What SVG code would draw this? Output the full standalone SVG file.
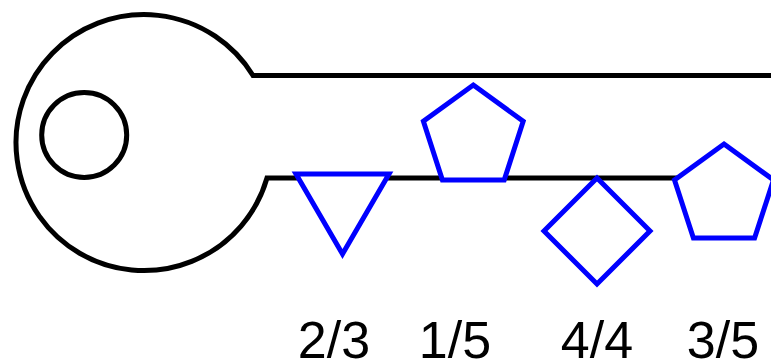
<svg xmlns="http://www.w3.org/2000/svg" width="771" height="363" viewBox="0 0 771 363">
  <style>
    .key { fill: none; stroke: #000; stroke-width: 5; stroke-linejoin: miter; }
    .pin { fill: #fff; stroke: #0000ff; stroke-width: 5; stroke-linejoin: miter; }
    .lbl { font-family: "Liberation Sans", Arial, sans-serif; font-size: 52px; fill: #000; text-anchor: middle; }
  </style>
  <rect width="771" height="363" fill="#fff"/>

  <!-- key outline: bow and blade -->
  <g id="key">
    <path class="key" d="M 775 75.5 H 253 A 128 128 0 1 0 267 178 H 775"/>
    <circle class="key" cx="84.2" cy="135" r="42.5"/>
  </g>

  <!-- pins along the blade -->
  <g id="pin-triangle">
    <polygon class="pin" points="296,174 389,174 342.5,254"/>
  </g>
  <g id="pin-pentagon-1">
    <polygon class="pin" points="473.3,85 523.2,121.3 504.2,180 442.4,180 423.4,121.3"/>
  </g>
  <g id="pin-diamond">
    <polygon class="pin" points="597,178 650,231 597,284 544,231"/>
  </g>
  <g id="pin-pentagon-2">
    <polygon class="pin" points="724,144 773.5,180 754.6,238 693.4,238 674.5,180"/>
  </g>

  <!-- labels -->
  <g id="labels">
    <text class="lbl" x="334" y="358">2/3</text>
    <text class="lbl" x="455" y="358">1/5</text>
    <text class="lbl" x="597" y="358">4/4</text>
    <text class="lbl" x="723" y="358">3/5</text>
  </g>
</svg>
